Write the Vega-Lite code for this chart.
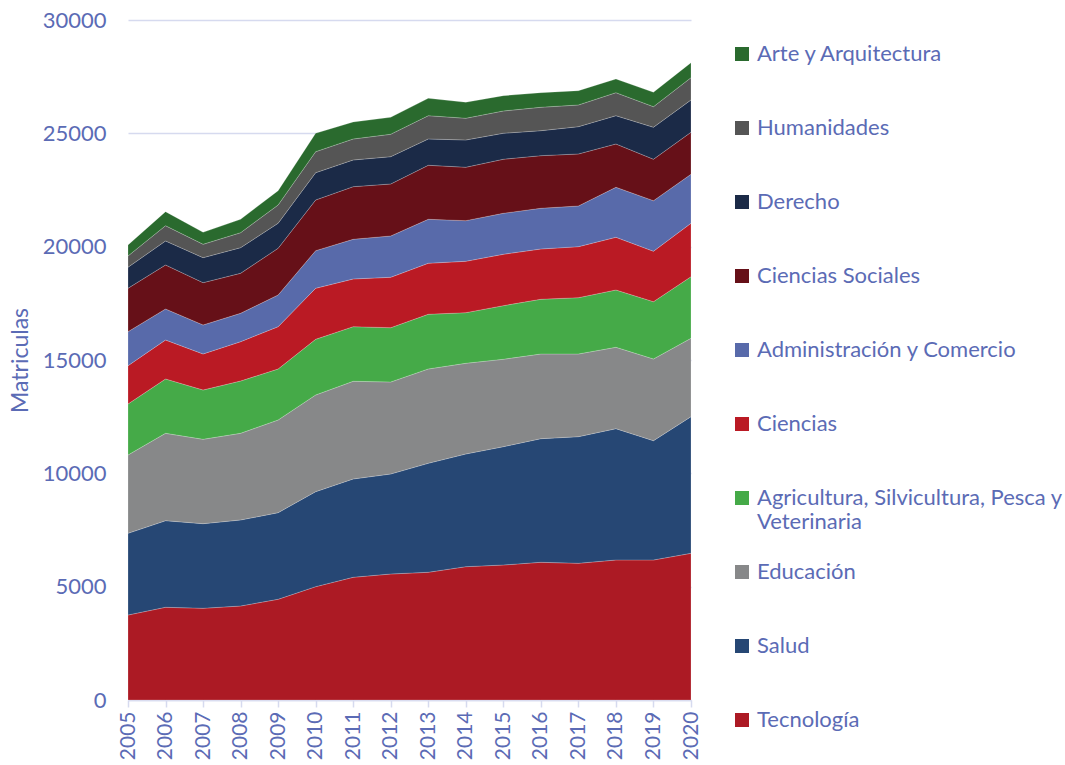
{
  "$schema": "https://vega.github.io/schema/vega-lite/v6.json",
  "width": 563,
  "height": 680,
  "autosize": {"type": "none"},
  "padding": {"left": 128, "top": 20, "right": 374, "bottom": 65},
  "background": "white",
  "config": {
    "view": {"stroke": null},
    "font": "Lato"
  },
  "data": {
    "values": [
      {"anio":"2005","area":"Tecnología","matriculas":3750},{"anio":"2006","area":"Tecnología","matriculas":4090},{"anio":"2007","area":"Tecnología","matriculas":4046},{"anio":"2008","area":"Tecnología","matriculas":4147},{"anio":"2009","area":"Tecnología","matriculas":4443},{"anio":"2010","area":"Tecnología","matriculas":5000},{"anio":"2011","area":"Tecnología","matriculas":5413},{"anio":"2012","area":"Tecnología","matriculas":5559},{"anio":"2013","area":"Tecnología","matriculas":5634},{"anio":"2014","area":"Tecnología","matriculas":5882},{"anio":"2015","area":"Tecnología","matriculas":5956},{"anio":"2016","area":"Tecnología","matriculas":6075},{"anio":"2017","area":"Tecnología","matriculas":6031},{"anio":"2018","area":"Tecnología","matriculas":6177},{"anio":"2019","area":"Tecnología","matriculas":6177},{"anio":"2020","area":"Tecnología","matriculas":6472},
      {"anio":"2005","area":"Salud","matriculas":3605},{"anio":"2006","area":"Salud","matriculas":3821},{"anio":"2007","area":"Salud","matriculas":3733},{"anio":"2008","area":"Salud","matriculas":3795},{"anio":"2009","area":"Salud","matriculas":3821},{"anio":"2010","area":"Salud","matriculas":4191},{"anio":"2011","area":"Salud","matriculas":4338},{"anio":"2012","area":"Salud","matriculas":4412},{"anio":"2013","area":"Salud","matriculas":4809},{"anio":"2014","area":"Salud","matriculas":4972},{"anio":"2015","area":"Salud","matriculas":5220},{"anio":"2016","area":"Salud","matriculas":5454},{"anio":"2017","area":"Salud","matriculas":5586},{"anio":"2018","area":"Salud","matriculas":5793},{"anio":"2019","area":"Salud","matriculas":5263},{"anio":"2020","area":"Salud","matriculas":6028},
      {"anio":"2005","area":"Educación","matriculas":3454},{"anio":"2006","area":"Educación","matriculas":3855},{"anio":"2007","area":"Educación","matriculas":3723},{"anio":"2008","area":"Educación","matriculas":3824},{"anio":"2009","area":"Educación","matriculas":4090},{"anio":"2010","area":"Educación","matriculas":4266},{"anio":"2011","area":"Educación","matriculas":4310},{"anio":"2012","area":"Educación","matriculas":4059},{"anio":"2013","area":"Educación","matriculas":4161},{"anio":"2014","area":"Educación","matriculas":4001},{"anio":"2015","area":"Educación","matriculas":3856},{"anio":"2016","area":"Educación","matriculas":3737},{"anio":"2017","area":"Educación","matriculas":3649},{"anio":"2018","area":"Educación","matriculas":3591},{"anio":"2019","area":"Educación","matriculas":3605},{"anio":"2020","area":"Educación","matriculas":3458},
      {"anio":"2005","area":"Agricultura, Silvicultura, Pesca y Veterinaria","matriculas":2251},{"anio":"2006","area":"Agricultura, Silvicultura, Pesca y Veterinaria","matriculas":2397},{"anio":"2007","area":"Agricultura, Silvicultura, Pesca y Veterinaria","matriculas":2175},{"anio":"2008","area":"Agricultura, Silvicultura, Pesca y Veterinaria","matriculas":2308},{"anio":"2009","area":"Agricultura, Silvicultura, Pesca y Veterinaria","matriculas":2250},{"anio":"2010","area":"Agricultura, Silvicultura, Pesca y Veterinaria","matriculas":2457},{"anio":"2011","area":"Agricultura, Silvicultura, Pesca y Veterinaria","matriculas":2409},{"anio":"2012","area":"Agricultura, Silvicultura, Pesca y Veterinaria","matriculas":2396},{"anio":"2013","area":"Agricultura, Silvicultura, Pesca y Veterinaria","matriculas":2413},{"anio":"2014","area":"Agricultura, Silvicultura, Pesca y Veterinaria","matriculas":2233},{"anio":"2015","area":"Agricultura, Silvicultura, Pesca y Veterinaria","matriculas":2365},{"anio":"2016","area":"Agricultura, Silvicultura, Pesca y Veterinaria","matriculas":2413},{"anio":"2017","area":"Agricultura, Silvicultura, Pesca y Veterinaria","matriculas":2484},{"anio":"2018","area":"Agricultura, Silvicultura, Pesca y Veterinaria","matriculas":2528},{"anio":"2019","area":"Agricultura, Silvicultura, Pesca y Veterinaria","matriculas":2528},{"anio":"2020","area":"Agricultura, Silvicultura, Pesca y Veterinaria","matriculas":2718},
      {"anio":"2005","area":"Ciencias","matriculas":1689},{"anio":"2006","area":"Ciencias","matriculas":1720},{"anio":"2007","area":"Ciencias","matriculas":1589},{"anio":"2008","area":"Ciencias","matriculas":1734},{"anio":"2009","area":"Ciencias","matriculas":1866},{"anio":"2010","area":"Ciencias","matriculas":2250},{"anio":"2011","area":"Ciencias","matriculas":2105},{"anio":"2012","area":"Ciencias","matriculas":2223},{"anio":"2013","area":"Ciencias","matriculas":2250},{"anio":"2014","area":"Ciencias","matriculas":2267},{"anio":"2015","area":"Ciencias","matriculas":2267},{"anio":"2016","area":"Ciencias","matriculas":2219},{"anio":"2017","area":"Ciencias","matriculas":2250},{"anio":"2018","area":"Ciencias","matriculas":2325},{"anio":"2019","area":"Ciencias","matriculas":2224},{"anio":"2020","area":"Ciencias","matriculas":2356},
      {"anio":"2005","area":"Administración y Comercio","matriculas":1501},{"anio":"2006","area":"Administración y Comercio","matriculas":1368},{"anio":"2007","area":"Administración y Comercio","matriculas":1279},{"anio":"2008","area":"Administración y Comercio","matriculas":1253},{"anio":"2009","area":"Administración y Comercio","matriculas":1399},{"anio":"2010","area":"Administración y Comercio","matriculas":1659},{"anio":"2011","area":"Administración y Comercio","matriculas":1751},{"anio":"2012","area":"Administración y Comercio","matriculas":1823},{"anio":"2013","area":"Administración y Comercio","matriculas":1941},{"anio":"2014","area":"Administración y Comercio","matriculas":1792},{"anio":"2015","area":"Administración y Comercio","matriculas":1809},{"anio":"2016","area":"Administración y Comercio","matriculas":1796},{"anio":"2017","area":"Administración y Comercio","matriculas":1795},{"anio":"2018","area":"Administración y Comercio","matriculas":2206},{"anio":"2019","area":"Administración y Comercio","matriculas":2232},{"anio":"2020","area":"Administración y Comercio","matriculas":2162},
      {"anio":"2005","area":"Ciencias Sociales","matriculas":1914},{"anio":"2006","area":"Ciencias Sociales","matriculas":1941},{"anio":"2007","area":"Ciencias Sociales","matriculas":1867},{"anio":"2008","area":"Ciencias Sociales","matriculas":1765},{"anio":"2009","area":"Ciencias Sociales","matriculas":2060},{"anio":"2010","area":"Ciencias Sociales","matriculas":2237},{"anio":"2011","area":"Ciencias Sociales","matriculas":2321},{"anio":"2012","area":"Ciencias Sociales","matriculas":2294},{"anio":"2013","area":"Ciencias Sociales","matriculas":2383},{"anio":"2014","area":"Ciencias Sociales","matriculas":2356},{"anio":"2015","area":"Ciencias Sociales","matriculas":2383},{"anio":"2016","area":"Ciencias Sociales","matriculas":2321},{"anio":"2017","area":"Ciencias Sociales","matriculas":2295},{"anio":"2018","area":"Ciencias Sociales","matriculas":1911},{"anio":"2019","area":"Ciencias Sociales","matriculas":1827},{"anio":"2020","area":"Ciencias Sociales","matriculas":1853},
      {"anio":"2005","area":"Derecho","matriculas":926},{"anio":"2006","area":"Derecho","matriculas":1059},{"anio":"2007","area":"Derecho","matriculas":1102},{"anio":"2008","area":"Derecho","matriculas":1129},{"anio":"2009","area":"Derecho","matriculas":1103},{"anio":"2010","area":"Derecho","matriculas":1204},{"anio":"2011","area":"Derecho","matriculas":1178},{"anio":"2012","area":"Derecho","matriculas":1204},{"anio":"2013","area":"Derecho","matriculas":1160},{"anio":"2014","area":"Derecho","matriculas":1204},{"anio":"2015","area":"Derecho","matriculas":1147},{"anio":"2016","area":"Derecho","matriculas":1102},{"anio":"2017","area":"Derecho","matriculas":1204},{"anio":"2018","area":"Derecho","matriculas":1248},{"anio":"2019","area":"Derecho","matriculas":1411},{"anio":"2020","area":"Derecho","matriculas":1425},
      {"anio":"2005","area":"Humanidades","matriculas":499},{"anio":"2006","area":"Humanidades","matriculas":675},{"anio":"2007","area":"Humanidades","matriculas":591},{"anio":"2008","area":"Humanidades","matriculas":662},{"anio":"2009","area":"Humanidades","matriculas":807},{"anio":"2010","area":"Humanidades","matriculas":927},{"anio":"2011","area":"Humanidades","matriculas":926},{"anio":"2012","area":"Humanidades","matriculas":989},{"anio":"2013","area":"Humanidades","matriculas":1028},{"anio":"2014","area":"Humanidades","matriculas":958},{"anio":"2015","area":"Humanidades","matriculas":984},{"anio":"2016","area":"Humanidades","matriculas":1033},{"anio":"2017","area":"Humanidades","matriculas":957},{"anio":"2018","area":"Humanidades","matriculas":1015},{"anio":"2019","area":"Humanidades","matriculas":909},{"anio":"2020","area":"Humanidades","matriculas":984},
      {"anio":"2005","area":"Arte y Arquitectura","matriculas":486},{"anio":"2006","area":"Arte y Arquitectura","matriculas":618},{"anio":"2007","area":"Arte y Arquitectura","matriculas":530},{"anio":"2008","area":"Arte y Arquitectura","matriculas":591},{"anio":"2009","area":"Arte y Arquitectura","matriculas":631},{"anio":"2010","area":"Arte y Arquitectura","matriculas":812},{"anio":"2011","area":"Arte y Arquitectura","matriculas":750},{"anio":"2012","area":"Arte y Arquitectura","matriculas":750},{"anio":"2013","area":"Arte y Arquitectura","matriculas":768},{"anio":"2014","area":"Arte y Arquitectura","matriculas":705},{"anio":"2015","area":"Arte y Arquitectura","matriculas":675},{"anio":"2016","area":"Arte y Arquitectura","matriculas":644},{"anio":"2017","area":"Arte y Arquitectura","matriculas":631},{"anio":"2018","area":"Arte y Arquitectura","matriculas":604},{"anio":"2019","area":"Arte y Arquitectura","matriculas":636},{"anio":"2020","area":"Arte y Arquitectura","matriculas":662}
    ]
  },
  "transform": [
    {"calculate": "indexof(['Tecnología','Salud','Educación','Agricultura, Silvicultura, Pesca y Veterinaria','Ciencias','Administración y Comercio','Ciencias Sociales','Derecho','Humanidades','Arte y Arquitectura'], datum.area)", "as": "orden"}
  ],
  "mark": {"type": "area", "stroke": "#ffffff", "strokeWidth": 0.4, "strokeOpacity": 0.5},
  "encoding": {
    "x": {
      "field": "anio",
      "type": "ordinal",
      "scale": {"type": "point", "padding": 0},
      "axis": {
        "title": null,
        "labelAngle": 270,
        "labelFontSize": 21,
        "labelColor": "#5B6BB5",
        "labelPadding": 4,
        "domainColor": "#D6DAEF",
        "domainWidth": 1.5,
        "tickColor": "#D6DAEF",
        "tickWidth": 1.5,
        "tickSize": 7,
        "grid": false
      }
    },
    "y": {
      "field": "matriculas",
      "type": "quantitative",
      "stack": "zero",
      "scale": {"domain": [0, 30000], "nice": false},
      "axis": {
        "title": "Matriculas",
        "titleFontSize": 23,
        "titleFontWeight": "normal",
        "titleColor": "#5B6BB5",
        "titlePadding": 10,
        "values": [0, 5000, 10000, 15000, 20000, 25000, 30000],
        "format": "d",
        "labelFontSize": 22,
        "labelColor": "#5B6BB5",
        "labelPadding": 22,
        "domain": false,
        "ticks": false,
        "grid": true,
        "gridColor": "#D6DAEF",
        "gridWidth": 1.5
      }
    },
    "color": {
      "field": "area",
      "type": "nominal",
      "scale": {
        "domain": ["Arte y Arquitectura","Humanidades","Derecho","Ciencias Sociales","Administración y Comercio","Ciencias","Agricultura, Silvicultura, Pesca y Veterinaria","Educación","Salud","Tecnología"],
        "range": ["#2A6A2E","#555555","#1B2A47","#661018","#586AAA","#BA1A24","#45AA48","#878889","#264774","#AC1A24"]
      },
      "legend": {
        "title": null,
        "orient": "none",
        "legendX": 603,
        "legendY": 23,
        "symbolType": "square",
        "symbolSize": 196,
        "symbolStrokeWidth": 0,
        "labelFontSize": 22,
        "labelColor": "#5B6BB5",
        "labelOffset": 4,
        "labelLimit": 400,
        "rowPadding": 28,
        "labelExpr": "datum.label == 'Agricultura, Silvicultura, Pesca y Veterinaria' ? ['Agricultura, Silvicultura, Pesca y', 'Veterinaria'] : [datum.label, ' ']"
      }
    },
    "order": {"field": "orden", "type": "quantitative"}
  }
}
